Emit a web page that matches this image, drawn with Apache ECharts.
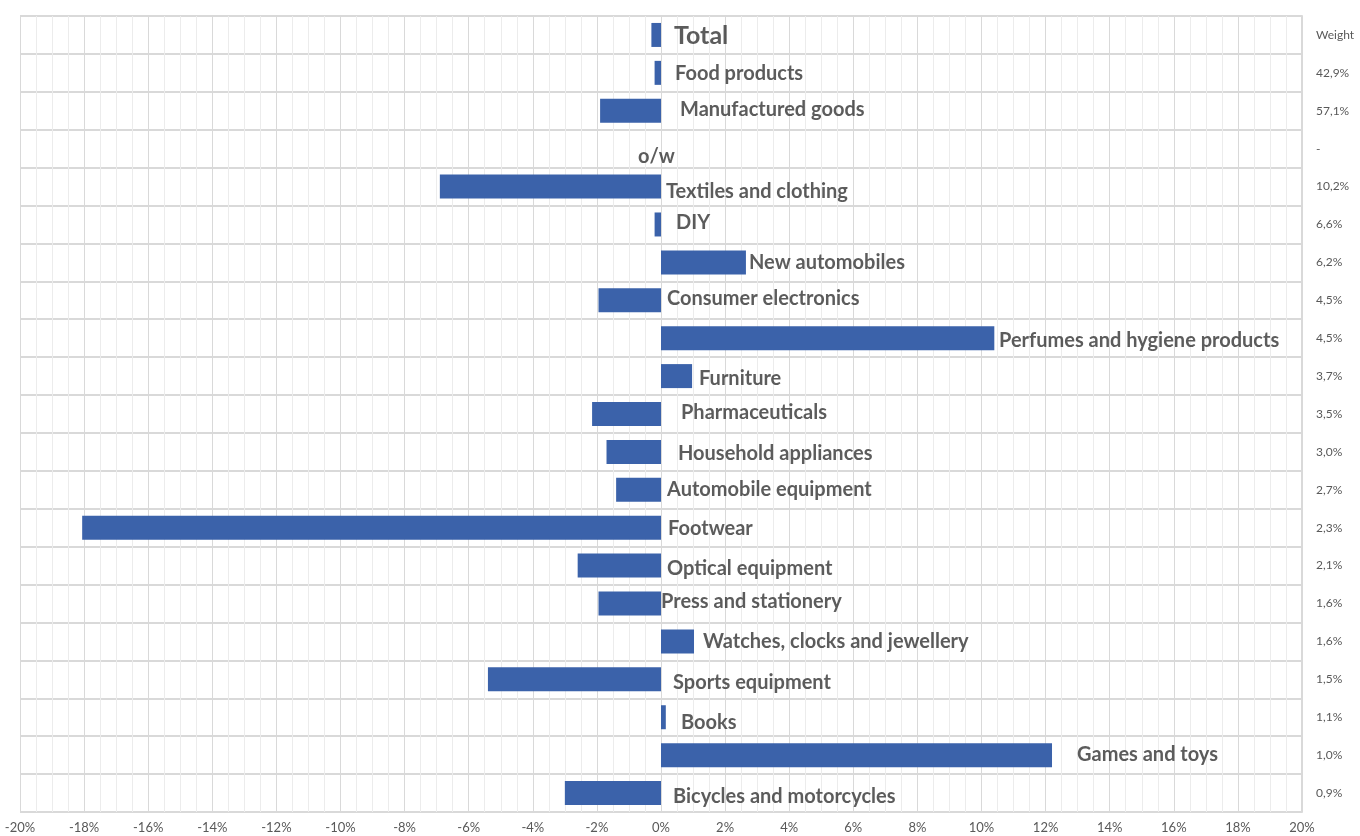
<!DOCTYPE html>
<html>
<head>
<meta charset="utf-8">
<script src="https://cdn.jsdelivr.net/npm/echarts@6/dist/echarts.min.js"></script>
<style>
html,body{margin:0;padding:0;background:#fff;}
#chart{width:1360px;height:836px;}
</style>
</head>
<body>
<div id="chart"></div>
<script>
const categories = ["Total","Food products","Manufactured goods","o/w","Textiles and clothing","DIY","New automobiles","Consumer electronics","Perfumes and hygiene products","Furniture","Pharmaceuticals","Household appliances","Automobile equipment","Footwear","Optical equipment","Press and stationery","Watches, clocks and jewellery","Sports equipment","Books","Games and toys","Bicycles and motorcycles"];
const values = [-0.3,-0.2,-1.9,null,-6.9,-0.2,2.65,-1.95,10.4,0.97,-2.15,-1.7,-1.4,-18.06,-2.6,-1.95,1.03,-5.4,0.15,12.2,-3.0];
const weights = ["Weight","42,9%","57,1%","-","10,2%","6,6%","6,2%","4,5%","4,5%","3,7%","3,5%","3,0%","2,7%","2,3%","2,1%","1,6%","1,6%","1,5%","1,1%","1,0%","0,9%"];
const xTicks = {min:-20, max:20, interval:2};

// label styling (offsets of each category label from the zero line)
const labelOffsets = [[13,1],[14,1],[19,-1],[-23,8],[5,5],[15,-2],[88,0],[6,-2],[338,2],[38,2],[20,-1],[17,2],[6,0],[7,1],[6,3],[0,-2],[42,0],[12,3],[20,5],[416,-1],[12,3]];

const chart = echarts.init(document.getElementById('chart'));
const labelData = categories.map((c,i)=>({
  value:[0,c],
  label:{
    offset:labelOffsets[i],
    fontSize: i===0 ? 25 : 20
  }
}));
chart.setOption({
  animation:false,
  grid:{left:20,right:58,top:16,bottom:24,containLabel:false},
  xAxis:{
    type:'value', min:xTicks.min, max:xTicks.max, interval:xTicks.interval,
    axisLine:{show:false}, axisTick:{show:false},
    axisLabel:{formatter:'{value}%', color:'#595959', fontSize:13, fontFamily:'Lato', margin:9},
    splitLine:{show:true, lineStyle:{color:'#d9d9d9', width:1}},
    minorTick:{show:false, splitNumber:4},
    minorSplitLine:{show:true, lineStyle:{color:'#ececec', width:1}}
  },
  yAxis:[{
    type:'category', data:categories, inverse:true,
    axisLine:{show:true, lineStyle:{color:'#d9d9d9', width:1}}, axisTick:{show:false},
    axisLabel:{show:false},
    splitLine:{show:true, lineStyle:{color:'#d9d9d9', width:2}}
  },{
    type:'category', data:weights, inverse:true, position:'right',
    axisLine:{show:true, lineStyle:{color:'#d9d9d9', width:2}}, axisTick:{show:false},
    axisLabel:{show:true, align:'left', margin:14, color:'#595959', fontSize:12, fontFamily:'Lato'},
    splitLine:{show:false}
  }],
  series:[{
    type:'bar', data:values, barWidth:24,
    itemStyle:{color:'#3b62aa'},
    silent:true
  },{
    type:'scatter', data:labelData, symbolSize:0,
    label:{show:true, position:'right', distance:0,
      formatter:p=>p.value[1],
      color:'#333333', fontWeight:'bold', fontFamily:'Lato'},
    silent:true, z:5
  }]
});
</script>
</body>
</html>
